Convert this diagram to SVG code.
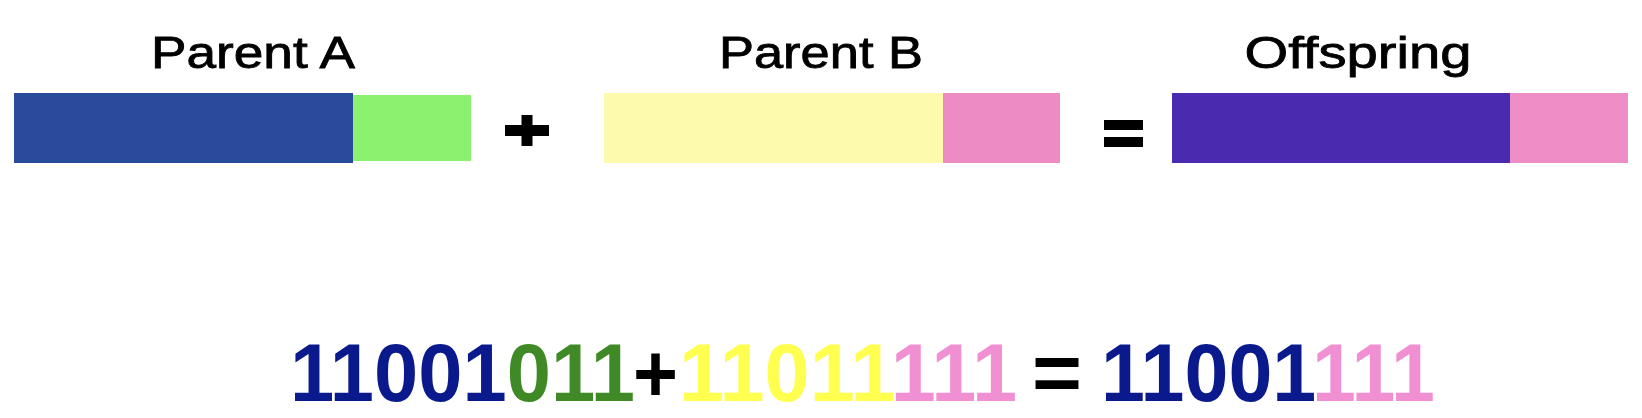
<svg xmlns="http://www.w3.org/2000/svg" width="1642" height="418" viewBox="0 0 1642 418">
<style>
.lbl{font-family:"Liberation Sans",Arial,sans-serif;font-size:44px;fill:#000;stroke:#000;stroke-width:0.8px}
.op{fill:#000}
.big{font-family:"Liberation Sans",Arial,sans-serif;font-size:81px;font-weight:bold}
.navy{fill:#0a1a8c}.grn{fill:#3f8a26}.yel{fill:#ffff50}.pnk{fill:#f090d2}.blk{fill:#000}
</style>
<rect width="1642" height="418" fill="#fff"/>
<g id="parentA">
<text class="lbl" x="253" y="68" text-anchor="middle" textLength="204" lengthAdjust="spacingAndGlyphs">Parent A</text>
<rect x="14" y="93" width="339" height="70" fill="#2a4b9b"/>
<rect x="353" y="95" width="118" height="66" fill="#8af26e"/>
</g>
<g id="plus">
<rect x="505" y="125" width="44" height="11" class="op"/>
<rect x="521.5" y="115" width="11" height="31" class="op"/>
</g>
<g id="parentB">
<text class="lbl" x="821" y="68" text-anchor="middle" textLength="204" lengthAdjust="spacingAndGlyphs">Parent B</text>
<rect x="604" y="93" width="339" height="70" fill="#fdfaae"/>
<rect x="943" y="93" width="117" height="70" fill="#ec8bc4"/>
</g>
<g id="equals">
<rect x="1104" y="120" width="39" height="10" class="op"/>
<rect x="1104" y="137" width="39" height="10" class="op"/>
</g>
<g id="offspring">
<text class="lbl" x="1358" y="68" text-anchor="middle" textLength="227" lengthAdjust="spacingAndGlyphs">Offspring</text>
<rect x="1172" y="93" width="338" height="70" fill="#4a2bb0"/>
<rect x="1510" y="93" width="118" height="70" fill="#ee8dc6"/>
</g>
<g id="equation">
<text class="big" y="401"><tspan x="290" textLength="345" lengthAdjust="spacingAndGlyphs"><tspan class="navy">11001</tspan><tspan class="grn">011</tspan></tspan><tspan class="blk" x="633" textLength="45" lengthAdjust="spacingAndGlyphs">+</tspan><tspan x="679" textLength="338" lengthAdjust="spacingAndGlyphs"><tspan class="yel">11011</tspan><tspan class="pnk">111</tspan></tspan><tspan class="blk" x="1032" textLength="50" lengthAdjust="spacingAndGlyphs">=</tspan><tspan x="1101" textLength="334" lengthAdjust="spacingAndGlyphs"><tspan class="navy">11001</tspan><tspan class="pnk">111</tspan></tspan></text>
</g>
</svg>
